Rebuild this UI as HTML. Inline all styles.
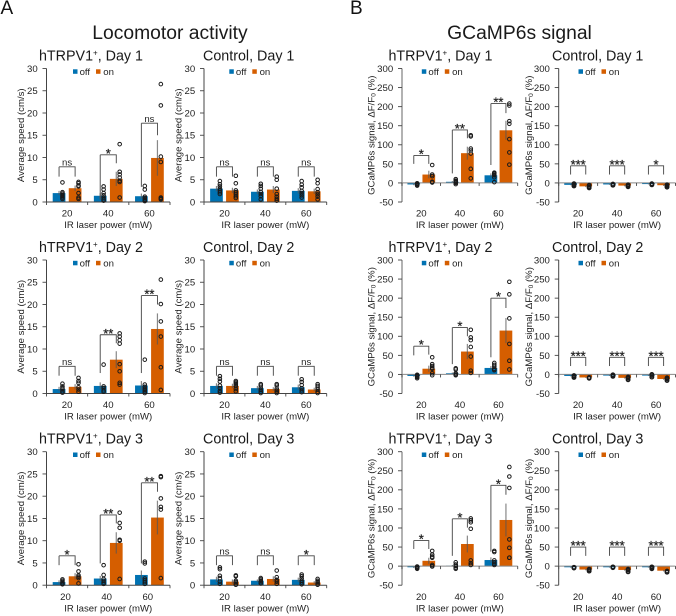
<!DOCTYPE html>
<html lang="en">
<head>
<meta charset="utf-8">
<title>Locomotor activity and GCaMP6s signal</title>
<style>
html,body{margin:0;padding:0;background:#fff;}
body{width:676px;height:616px;overflow:hidden;}
svg{display:block;font-family:"Liberation Sans",Arial,sans-serif;}
</style>
</head>
<body>
<svg id="figure" width="676" height="616" viewBox="0 0 676 616" xmlns="http://www.w3.org/2000/svg">
  <text x="0.5" y="14" font-size="19" fill="#111">A</text>
  <text x="350" y="14" font-size="19" fill="#111">B</text>
  <text x="170" y="39" font-size="19.3" text-anchor="middle" fill="#1a1a1a">Locomotor activity</text>
  <text x="519.5" y="39" font-size="19.3" text-anchor="middle" fill="#1a1a1a">GCaMP6s signal</text>
</svg>
<script>
// Panel order: each row = speed hTRPV1, speed control, signal hTRPV1, signal control
const categories = [20, 40, 60];
const speedTicks = [0, 5, 10, 15, 20, 25, 30];
const signalTicks = [-50, 0, 50, 100, 150, 200, 250, 300];
const panelGroups = ['hTRPV1', 'Control', 'hTRPV1', 'Control'];
const panelDays = ['Day 1', 'Day 2', 'Day 3'];

const offMeans = [
  [2, 1.4, 1.3], [3, 2.3, 2.5], [-4, 3, 20], [-5, -4, -3],
  [1, 1.7, 1.8], [1.7, 1.2, 1.4], [-4, 3, 17], [-4, -3, -3],
  [0.7, 1.5, 2.3], [1.3, 1, 1.2], [-3, 1, 16], [-3, -3, -3]
];
const onMeans = [
  [3.1, 5.2, 9.9], [2.6, 2.8, 2.4], [22, 78, 138], [-9, -7, -6],
  [1.5, 7.6, 14.5], [1.7, 1, 0.9], [15, 60, 115], [-8, -9, -12],
  [2, 9.5, 15.2], [0.8, 1.4, 0.6], [14, 58, 121], [-9, -10, -12]
];
const offErrors = [
  [0.5, 0.6, 0.6], [0.6, 0.5, 0.6], [2, 2, 5], [1, 1, 1],
  [0.5, 0.8, 1], [0.6, 0.5, 0.6], [2, 2, 5], [1, 1, 1],
  [0.4, 0.6, 1], [0.6, 0.3, 0.5], [2, 2, 7], [1, 1, 1]
];
const onErrors = [
  [0.6, 1.6, 4], [0.6, 0.8, 0.6], [10, 17, 25], [2, 2, 2],
  [0.6, 1.9, 3.5], [0.5, 0.4, 0.4], [8, 20, 33], [1, 2, 2],
  [0.7, 2.4, 3.8], [0.5, 0.6, 0.3], [8, 22, 43], [2, 2, 2]
];
const offPoints = [
  [[4.4,2.2,1.9,1.6,1.3,1,0.7],[3.5,2.8,2,1.5,1,0.6,0.3],[3.6,2.8,1.2,0.9,0.6,0.4,0.2]],
  [[4.7,4,3.5,3,2.6,2.2,1.8],[4.1,3.6,3,2.3,1.8,1.3,0.6],[4.7,3.9,3.3,2.5,2,1.5,1]],
  [[-7,-5,-3,-2,-1],[10,6,4,2,0,-3],[27,25,22,20,15,2]],
  [[-8,-5,-2],[-6,-5,-3],[-5,-3,-2]],
  [[2.2,1.6,1.2,0.9,0.5,0.2],[6.5,1.6,1.2,0.7,0.4],[7.6,2,1.5,1,0.7,0.4,0.1]],
  [[3.9,3.3,2.7,1.8,1.2,0.6,0.2],[2.1,1.8,1.3,0.8,0.4,0.1],[3.2,2.6,1.9,1.2,0.7,0.3]],
  [[-10,-7,-5,-3,-1],[16,13,3,0,-2],[30,25,20,15,12,11]],
  [[-8,-5,-3],[-5,-3,-1],[-7,-3,0]],
  [[1.3,1,0.7,0.4,0.2],[4.5,2.3,1.4,1,0.6,0.3],[5.3,4.9,1.5,1.1,0.7,0.3]],
  [[4,3.6,2.1,1.6,0.8,0.3],[1.6,1.3,1,0.7,0.4],[2.4,2,1.5,1,0.6,0.2]],
  [[-7,-5,-3,-1],[10,4,0,-4,-7],[40,37,15,10,6,3]],
  [[-5,-3],[-4,-2],[-7,-4,-2]]
];
const onPoints = [
  [[4.5,4.2,3.7,3.5,2,1,0.7],[13,6.8,6.2,5.5,4.8,4.5,1],[26.5,21.7,10.2,9,1,0.8,0.6]],
  [[5.9,4.2,2.6,2.2,1.8,1.3,0.9],[5.7,5,3,1.8,1.2,0.7,0.3],[5,4.2,2.9,2.2,1.7,1.2,0.6]],
  [[47,22,18,3,1],[125,122,90,85,77,37,12],[208,203,162,155,115,80,48]],
  [[-13,-10,-6],[-10,-8,-5],[-11,-8,-5]],
  [[3.5,2.8,2.4,1.4,0.9,0.4],[13.5,12.8,12,11.2,6.6,5,2.4,2],[25.6,20.1,16.2,12.8,5.9,0.8]],
  [[2.8,2.5,2.2,1.9,1.6,1,0.5],[2.1,1.8,1.1,0.7,0.4,0.1],[2.1,1.7,1.3,0.9,0.4,0.1]],
  [[45,27,22,18,15,3,-2],[117,97,90,72,47,10,4],[243,210,147,80,36,13]],
  [[-10,-8],[-14,-10,-7],[-16,-12,-9]],
  [[4.7,3.1,2.2,1.9,1.6,0.4],[16.3,14,12.9,10.2,10,1.4],[24.5,24.3,19.5,17.6,17,1.6]],
  [[2.2,2,1,0.7,0.4,0.1],[3.3,1.8,1.2,0.8,0.3],[1.4,1,0.7,0.4,0.1]],
  [[40,30,25,22,3,0,-1],[125,120,115,98,15,8,3],[260,235,205,70,48,22,22]],
  [[-13,-10,-8],[-15,-11,-8],[-16,-13]]
];
const sigLabels = [
  ['ns','*','ns'], ['ns','ns','ns'], ['*','**','**'], ['***','***','*'],
  ['ns','**','**'], ['ns','ns','ns'], ['*','*','*'], ['***','***','***'],
  ['*','**','**'], ['ns','ns','*'], ['*','*','*'], ['***','***','***']
];
const bracketTops = [
  [7.9,10.6,17.7], [7.9,7.9,7.9], [72,139,208], [45,45,45],
  [6.1,13.2,22], [6.1,6.1,6.1], [74,123,200], [45,45,45],
  [6.6,15.8,23], [6.6,6.6,6.6], [67,124,212], [50,50,50]
];
const bracketLeftEnds = [
  [5.7,0.5,3.4], [5.7,5.7,5.7], [50,25,47], [22,22,22],
  [4,4.6,4.6], [4,4,4], [50,27,45], [22,22,22],
  [4.5,4.9,4.9], [4.5,4.5,4.5], [45,27,38], [27,27,27]
];
const bracketRightEnds = [
  [5.7,8.7,15], [5.7,5.7,5.7], [50,117,183], [22,22,22],
  [4,11.3,20], [4,4,4], [52,100,174], [22,22,22],
  [4.5,13.9,21], [4.5,4.5,4.5], [45,101,187], [27,27,27]
];

// Layout (not data)
const SVG_NS = 'http://www.w3.org/2000/svg';
const figure = document.getElementById('figure');
const colAxisStart = [46.5, 204, 402, 558.7];
const colAxisEnd = [170, 326.7, 517.7, 675.5];
const colTitleCenter = [91, 248.7, 440.5, 597.7];
const colYTitleX = [21.7, 179, 371.7, 529];
const rowTop = [68.5, 260, 451.7];
const plotHeight = 133.5;
const barWidth = 12.7;
const BLUE = '#0072B2';
const ORANGE = '#D55E00';
const TEXT = '#222';

function add(tag, attrs, parent, text) {
  const node = document.createElementNS(SVG_NS, tag);
  for (const k in attrs) node.setAttribute(k, attrs[k]);
  if (text !== undefined) node.textContent = text;
  parent.appendChild(node);
  return node;
}

for (let p = 0; p < offMeans.length; p++) {
  const col = p % 4;
  const row = Math.floor(p / 4);
  const isSignal = col >= 2;
  const ticks = isSignal ? signalTicks : speedTicks;
  const yMin = ticks[0];
  const yMax = ticks[ticks.length - 1];
  const x0 = colAxisStart[col];
  const x1 = colAxisEnd[col];
  const top = rowTop[row];
  const bottom = top + plotHeight;
  const groupW = (x1 - x0) / categories.length;
  const sep = groupW * 0.195;
  const yScale = v => bottom - (v - yMin) / (yMax - yMin) * plotHeight;
  const xScale = i => x0 + groupW * (i + 0.5);
  const zeroY = yScale(0);
  const id = panelGroups[col].toLowerCase() + '-day' + (row + 1) + (isSignal ? '-signal' : '-speed');

  const g = add('g', {}, figure);
  
  

  // Title
  const title = add('text', {x: colTitleCenter[col], y: top - 8.2, 'font-size': 14.3, 'text-anchor': 'middle', fill: '#1a1a1a'}, g);
  
  
  add('tspan', {}, title, panelGroups[col]);
  if (col % 2 === 0) add('tspan', {'font-size': 8, dy: -5}, title, '+');
  add('tspan', col % 2 === 0 ? {dy: 5} : {}, title, ', ' + panelDays[row]);

  // Bars
  categories.forEach((c, i) => {
    [[offMeans, BLUE, -sep, 'off'], [onMeans, ORANGE, sep, 'on']].forEach(s => {
      const v = s[0][p][i];
      const cx = xScale(i) + s[2];
      const bar = add('rect', {x: cx - barWidth / 2, y: Math.min(yScale(v), zeroY), width: barWidth, height: Math.abs(yScale(v) - zeroY), fill: s[1]}, g);
      
      
    });
  });

  // Y axis
  const yAxisColor = col === 2 ? '#999' : '#444';
  const yAxisWidth = col === 2 ? 1.5 : 1;
  const yAxis = add('line', {x1: x0, x2: x0, y1: top, y2: bottom, stroke: yAxisColor, 'stroke-width': yAxisWidth}, g);
  
  
  ticks.forEach(t => {
    const y = yScale(t);
    const tick = add('line', {x1: x0 - 4, x2: x0, y1: y, y2: y, stroke: '#444', 'stroke-width': 0.9}, g);
    
    
    const lab = add('text', {x: x0 - 8.8, y: y + 3.4, 'font-size': 9.6, 'text-anchor': 'end', fill: TEXT}, g, String(t));
    
    
  });

  // X axis
  const xAxis = add('line', {x1: x0, x2: x1, y1: zeroY, y2: zeroY, stroke: isSignal ? '#888' : '#444', 'stroke-width': 1}, g);
  
  
  for (let i = 0; i <= categories.length; i++) {
    const tx = x0 + groupW * i;
    const xt = add('line', {x1: tx, x2: tx, y1: zeroY, y2: zeroY + 3, stroke: '#444', 'stroke-width': 0.9}, g);
    
    
  }
  const labelShift = p === 8 ? -1.6 : 0;
  categories.forEach((c, i) => {
    const lab = add('text', {x: xScale(i) + labelShift, y: bottom + 14.6, 'font-size': 9.6, 'text-anchor': 'middle', fill: TEXT}, g, String(c));
    
    
  });
  const xTitle = add('text', {x: (x0 + x1) / 2, y: bottom + 26.2, 'font-size': 9.6, 'text-anchor': 'middle', fill: TEXT}, g, 'IR laser power (mW)');
  
  

  // Y title
  const yx = colYTitleX[col];
  const yy = (top + bottom) / 2;
  const yTitle = add('text', {x: yx, y: yy, 'font-size': 9.6, 'text-anchor': 'middle', fill: TEXT, transform: 'rotate(-90 ' + yx + ' ' + yy + ')', 'dominant-baseline': 'middle'}, g);
  
  
  if (isSignal) {
    add('tspan', {}, yTitle, 'GCaMP6s signal, \u0394F/F');
    add('tspan', {'font-size': 6.5, dy: 2}, yTitle, '0');
    add('tspan', {dy: -2}, yTitle, ' (%)');
  } else {
    yTitle.textContent = 'Average speed (cm/s)';
  }

  // Error bars and points
  const dotStroke = col === 3 ? 1.3 : 1;
  categories.forEach((c, i) => {
    [[offMeans, offErrors, offPoints, -sep, 'off'], [onMeans, onErrors, onPoints, sep, 'on']].forEach(s => {
      const cx = xScale(i) + s[3];
      const m = s[0][p][i];
      const e = s[1][p][i];
      const err = add('line', {x1: cx, x2: cx, y1: yScale(m + e), y2: yScale(m - e), stroke: '#555', 'stroke-opacity': 0.7, 'stroke-width': 1.2}, g);
      
      
      s[2][p][i].forEach(v => {
        const dot = add('circle', {cx: cx + 3.4, cy: yScale(v), r: 1.8, fill: 'none', stroke: '#1a1a1a', 'stroke-width': dotStroke}, g);
        
        
      });
    });

    // Significance bracket
    const bl = xScale(i) - sep;
    const br = xScale(i) + sep;
    const bt = yScale(bracketTops[p][i]);
    const ble = yScale(bracketLeftEnds[p][i]);
    const bre = yScale(bracketRightEnds[p][i]);
    const br1 = add('polyline', {points: bl + ',' + bt + ' ' + br + ',' + bt + ' ' + br + ',' + bre, fill: 'none', stroke: '#444', 'stroke-width': 0.9}, g);
    
    
    const br2 = add('line', {x1: bl, x2: bl, y1: bt, y2: ble, stroke: '#555', 'stroke-width': 1}, g);
    
    
    const txt = sigLabels[p][i];
    const isNs = txt === 'ns';
    const sig = add('text', {x: (bl + br) / 2, y: isNs ? bt - 1.2 : bt + 3, 'font-size': isNs ? 9.6 : 13, 'text-anchor': 'middle', fill: TEXT, stroke: isNs ? 'none' : TEXT, 'stroke-width': 0.25}, g, txt);
    
    
  });

  // Legend
  const lx = x0 + (isSignal ? 19.8 : (col === 0 ? 26.5 : 25.3));
  const ly = top + 3;
  const swOff = add('rect', {x: lx, y: ly - 2.2, width: 4.5, height: 4.5, fill: BLUE}, g);
  
  
  const tOff = add('text', {x: lx + 6.6, y: ly + 3.4, 'font-size': 9.6, fill: TEXT}, g, 'off');
  
  
  const swOn = add('rect', {x: lx + 23, y: ly - 2.2, width: 4.5, height: 4.5, fill: ORANGE}, g);
  
  
  const tOn = add('text', {x: lx + 30.3, y: ly + 3.4, 'font-size': 9.6, fill: TEXT}, g, 'on');
  
  
}
</script>
</body>
</html>
